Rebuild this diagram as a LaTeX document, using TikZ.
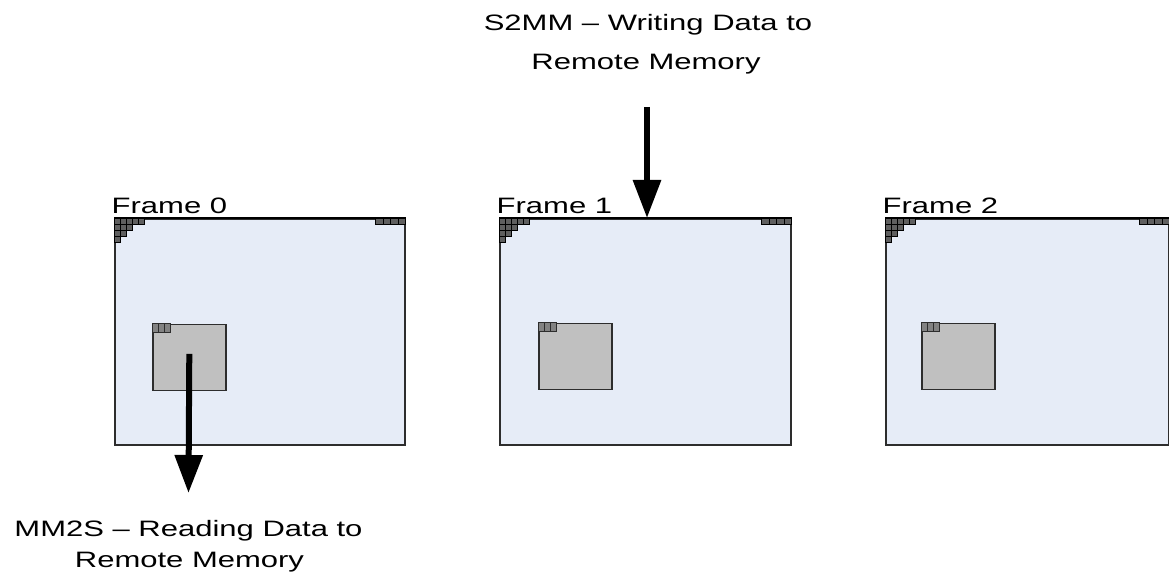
\documentclass[tikz,border=0pt]{standalone}
\usepackage{fontspec}
\setmainfont{Liberation Sans}
\newfontfamily\labelfont[FakeStretch=1.39]{Liberation Sans}
\usetikzlibrary{arrows.meta}

\definecolor{framefill}{RGB}{230,236,247}
\definecolor{bufferfill}{RGB}{192,192,192}
\definecolor{edgegray}{RGB}{45,45,45}
\definecolor{cellfill}{RGB}{95,95,95}
\definecolor{tagfill}{RGB}{130,130,130}

\begin{document}
\begin{tikzpicture}[x=1pt,y=-1pt,
  lbl/.style={font=\labelfont\fontsize{22.3}{26}\selectfont, inner sep=0pt, text=black},
  framebox/.style={draw=edgegray, line width=1.5pt, fill=framefill, rectangle, inner sep=0pt, anchor=north west},
  topedge/.style={draw=black, line width=2.4pt},
  bufferbox/.style={draw=edgegray, line width=1.6pt, fill=bufferfill, rectangle, inner sep=0pt, anchor=north west, minimum width=73pt, minimum height=66pt},
  cell/.style={draw=black, line width=0.8pt, fill=cellfill},
  tagcell/.style={draw=edgegray, line width=0.9pt, fill=tagfill},
  bigarrow/.style={line width=6pt, draw=black, -{Triangle[width=27pt,length=38pt]}},
  pics/stair/.style={code={
    \foreach \n [count=\r from 0] in {5,3,2,1}{
      \foreach \c in {1,...,\n}{
        \draw[cell] ({(\c-1)*6},{\r*6}) rectangle ++(6,6);
      }
    }
  }},
  pics/ribbon/.style={code={
    \foreach \c in {1,...,4}{
      \draw[cell] ({-\c*7.5},0) rectangle ++(7.5,6);
    }
  }},
  pics/tag/.style={code={
    \foreach \c in {1,...,3}{
      \draw[tagcell] ({(\c-1)*6.3},0) rectangle ++(6.3,9);
    }
  }}
]
\useasboundingbox (0,0) rectangle (1169,588);
\clip (0,0) rectangle (1169,588);

% frames
\node[framebox, minimum width=290pt, minimum height=226pt] (f0) at (114,218) {};
\node[framebox, minimum width=291pt, minimum height=226pt] (f1) at (499,218) {};
\node[framebox, minimum width=283pt, minimum height=226pt] (f2) at (885,218) {};

\foreach \f in {f0,f1,f2}{
  \draw[topedge] (\f.north west) -- (\f.north east);
  \pic at (\f.north west) {stair};
  \pic at (\f.north east) {ribbon};
}

% frame titles
\node[lbl, anchor=base west] (t0) at (111.5,213) {Frame 0};
\node[lbl, anchor=base west] (t1) at (496.5,213) {Frame 1};
\node[lbl, anchor=base west] (t2) at (882.5,213) {Frame 2};

% buffers inside the frames
\node[bufferbox] (b0) at (152,323.5) {};
\node[bufferbox] (b1) at (538,322.5) {};
\node[bufferbox] (b2) at (921,322.5) {};
\foreach \b in {b0,b1,b2}{
  \pic at (\b.north west) {tag};
}

% write channel
\node[lbl, anchor=base] (s2mmA) at (648,30.5) {S2MM – Writing Data to};
\node[lbl, anchor=base] (s2mmB) at (646,69.3) {Remote Memory};
\coordinate (wsrc) at (647,107);
\draw[bigarrow] (wsrc) -- (wsrc |- f1.north);

% read channel
\coordinate (rdst) at (188.5,493);
\draw[bigarrow] ([yshift=3.5pt]b0.center) -- (rdst);
\node[lbl, anchor=base] (mm2sA) at (188.5,536) {MM2S – Reading Data to};
\node[lbl, anchor=base] (mm2sB) at (189.5,567) {Remote Memory};
\end{tikzpicture}
\end{document}
